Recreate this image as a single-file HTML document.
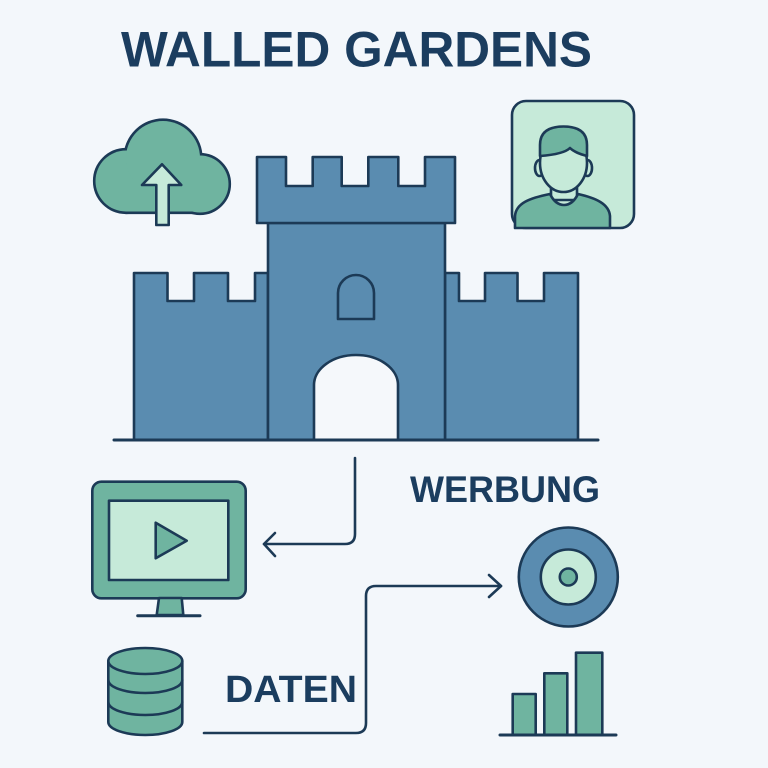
<!DOCTYPE html>
<html><head><meta charset="utf-8"><style>
html,body{margin:0;padding:0;background:#f3f7fb;}
svg{display:block;}
text{font-family:"Liberation Sans",sans-serif;font-weight:bold;fill:#1b3d5f;}
</style></head><body>
<svg width="768" height="768" viewBox="0 0 768 768" xmlns="http://www.w3.org/2000/svg">
<rect width="768" height="768" fill="#f3f7fb"/>
<text x="121" y="66.5" font-size="50" textLength="471" lengthAdjust="spacingAndGlyphs">WALLED GARDENS</text>

<g stroke="#1c3a56" stroke-width="2.6" stroke-linejoin="round" stroke-linecap="round">
<!-- cloud -->
<g stroke-width="5.2">
<circle cx="126" cy="181" r="30.5" fill="#6fb4a0"/>
<circle cx="163" cy="158" r="37" fill="#6fb4a0"/>
<circle cx="200" cy="184" r="28.5" fill="#6fb4a0"/>
<rect x="126" y="181" width="74" height="30.5" fill="#6fb4a0"/>
</g>
<g stroke="none" fill="#6fb4a0">
<circle cx="126" cy="181" r="30.5"/>
<circle cx="163" cy="158" r="37"/>
<circle cx="200" cy="184" r="28.5"/>
<rect x="126" y="181" width="74" height="30.5"/>
</g>
<polygon points="162,164.3 181.3,185 168.7,185 168.7,225 156.3,225 156.3,185 142,185" fill="#c6ead9"/>

<!-- person -->
<rect x="512" y="101" width="122" height="127" rx="14" fill="#c6ead9"/>
<rect x="551" y="178" width="26" height="22" fill="#c6ead9"/>
<path d="M515,228 L515,216 C516,203 530,198 550,194 C554,202 559,205 564,205 C569,205 574,202 578,194 C596,198 609,204 610,216 L610,228 Z" fill="#6fb4a0"/>
<ellipse cx="539.5" cy="168" rx="4.5" ry="8" fill="#c6ead9"/>
<ellipse cx="587.5" cy="168" rx="4.5" ry="8" fill="#c6ead9"/>
<ellipse cx="563.5" cy="163" rx="23.5" ry="29" fill="#c6ead9"/>
<path d="M540,156 L540,145 C540,131 550,126.5 563.5,126.5 C577,126.5 587,131 587,145 L587,156 C580,154 574,152 570,148 C565,153 553,155 540,156 Z" fill="#6fb4a0"/>

<!-- castle -->
<path d="M134,440 L134,273 L167.5,273 L167.5,301 L194,301 L194,273 L228,273 L228,301 L255,301 L255,273 L268,273 L268,440 Z" fill="#5a8cb0"/>
<path d="M445,440 L445,273 L459,273 L459,301 L485,301 L485,273 L517.5,273 L517.5,301 L544,301 L544,273 L578,273 L578,440 Z" fill="#5a8cb0"/>
<rect x="268" y="223" width="177" height="217" fill="#5a8cb0"/>
<path d="M257,223 L257,157 L286,157 L286,186 L312.7,186 L312.7,157 L341.7,157 L341.7,186 L368.3,186 L368.3,157 L398.3,157 L398.3,186 L425,186 L425,157 L455,157 L455,223 Z" fill="#5a8cb0"/>
<path d="M338,319 L338,293 A18,18 0 0 1 374,293 L374,319 Z" fill="#5a8cb0"/>
<path d="M314,440 L314,385 A42,30 0 0 1 398,385 L398,440" fill="#f5f8fb"/>
<line x1="114" y1="440" x2="598" y2="440" stroke-width="3"/>

<!-- monitor -->
<rect x="92.3" y="481.7" width="153.4" height="116.6" rx="9" fill="#6fb4a0"/>
<rect x="109" y="500.7" width="119.3" height="79.3" fill="#c6ead9"/>
<polygon points="155.7,522.7 186.7,540.7 155.7,558.3" fill="#6fb4a0"/>
<polygon points="159,598 181.7,598 183.3,615 156.7,615" fill="#6fb4a0"/>
<line x1="137.7" y1="615.7" x2="200" y2="615.7" stroke-width="3"/>

<!-- connectors -->
<path d="M355,458 L355,534 Q355,544 345,544 L264,544" fill="none"/>
<polyline points="275,533 264,544 275,556" fill="none"/>
<path d="M204,733 L356,733 Q366,733 366,723 L366,596 Q366,586 376,586 L501,586" fill="none"/>
<polyline points="489,575 501,586 489,597" fill="none"/>

<!-- target -->
<circle cx="568.3" cy="577" r="49.5" fill="#5a8cb0"/>
<circle cx="568.3" cy="577" r="27.5" fill="#c6ead9"/>
<circle cx="568.3" cy="577" r="8.5" fill="#6fb4a0"/>

<!-- database -->
<path d="M108.3,661 L108.3,722 A37,13 0 0 0 182.3,722 L182.3,661 Z" fill="#6fb4a0"/>
<path d="M108.3,680 A37,13 0 0 0 182.3,680" fill="none"/>
<path d="M108.3,702 A37,13 0 0 0 182.3,702" fill="none"/>
<ellipse cx="145.3" cy="661" rx="37" ry="13" fill="#6fb4a0"/>

<!-- bars -->
<rect x="512.7" y="694" width="23" height="41" fill="#6fb4a0"/>
<rect x="544.3" y="673.3" width="23" height="61.7" fill="#6fb4a0"/>
<rect x="576" y="652.7" width="26.3" height="82.3" fill="#6fb4a0"/>
<line x1="500" y1="735" x2="616" y2="735" stroke-width="3"/>
</g>

<text x="410" y="502" font-size="37" textLength="190" lengthAdjust="spacingAndGlyphs">WERBUNG</text>
<text x="225" y="702" font-size="38" textLength="132" lengthAdjust="spacingAndGlyphs">DATEN</text>
</svg>
</body></html>
